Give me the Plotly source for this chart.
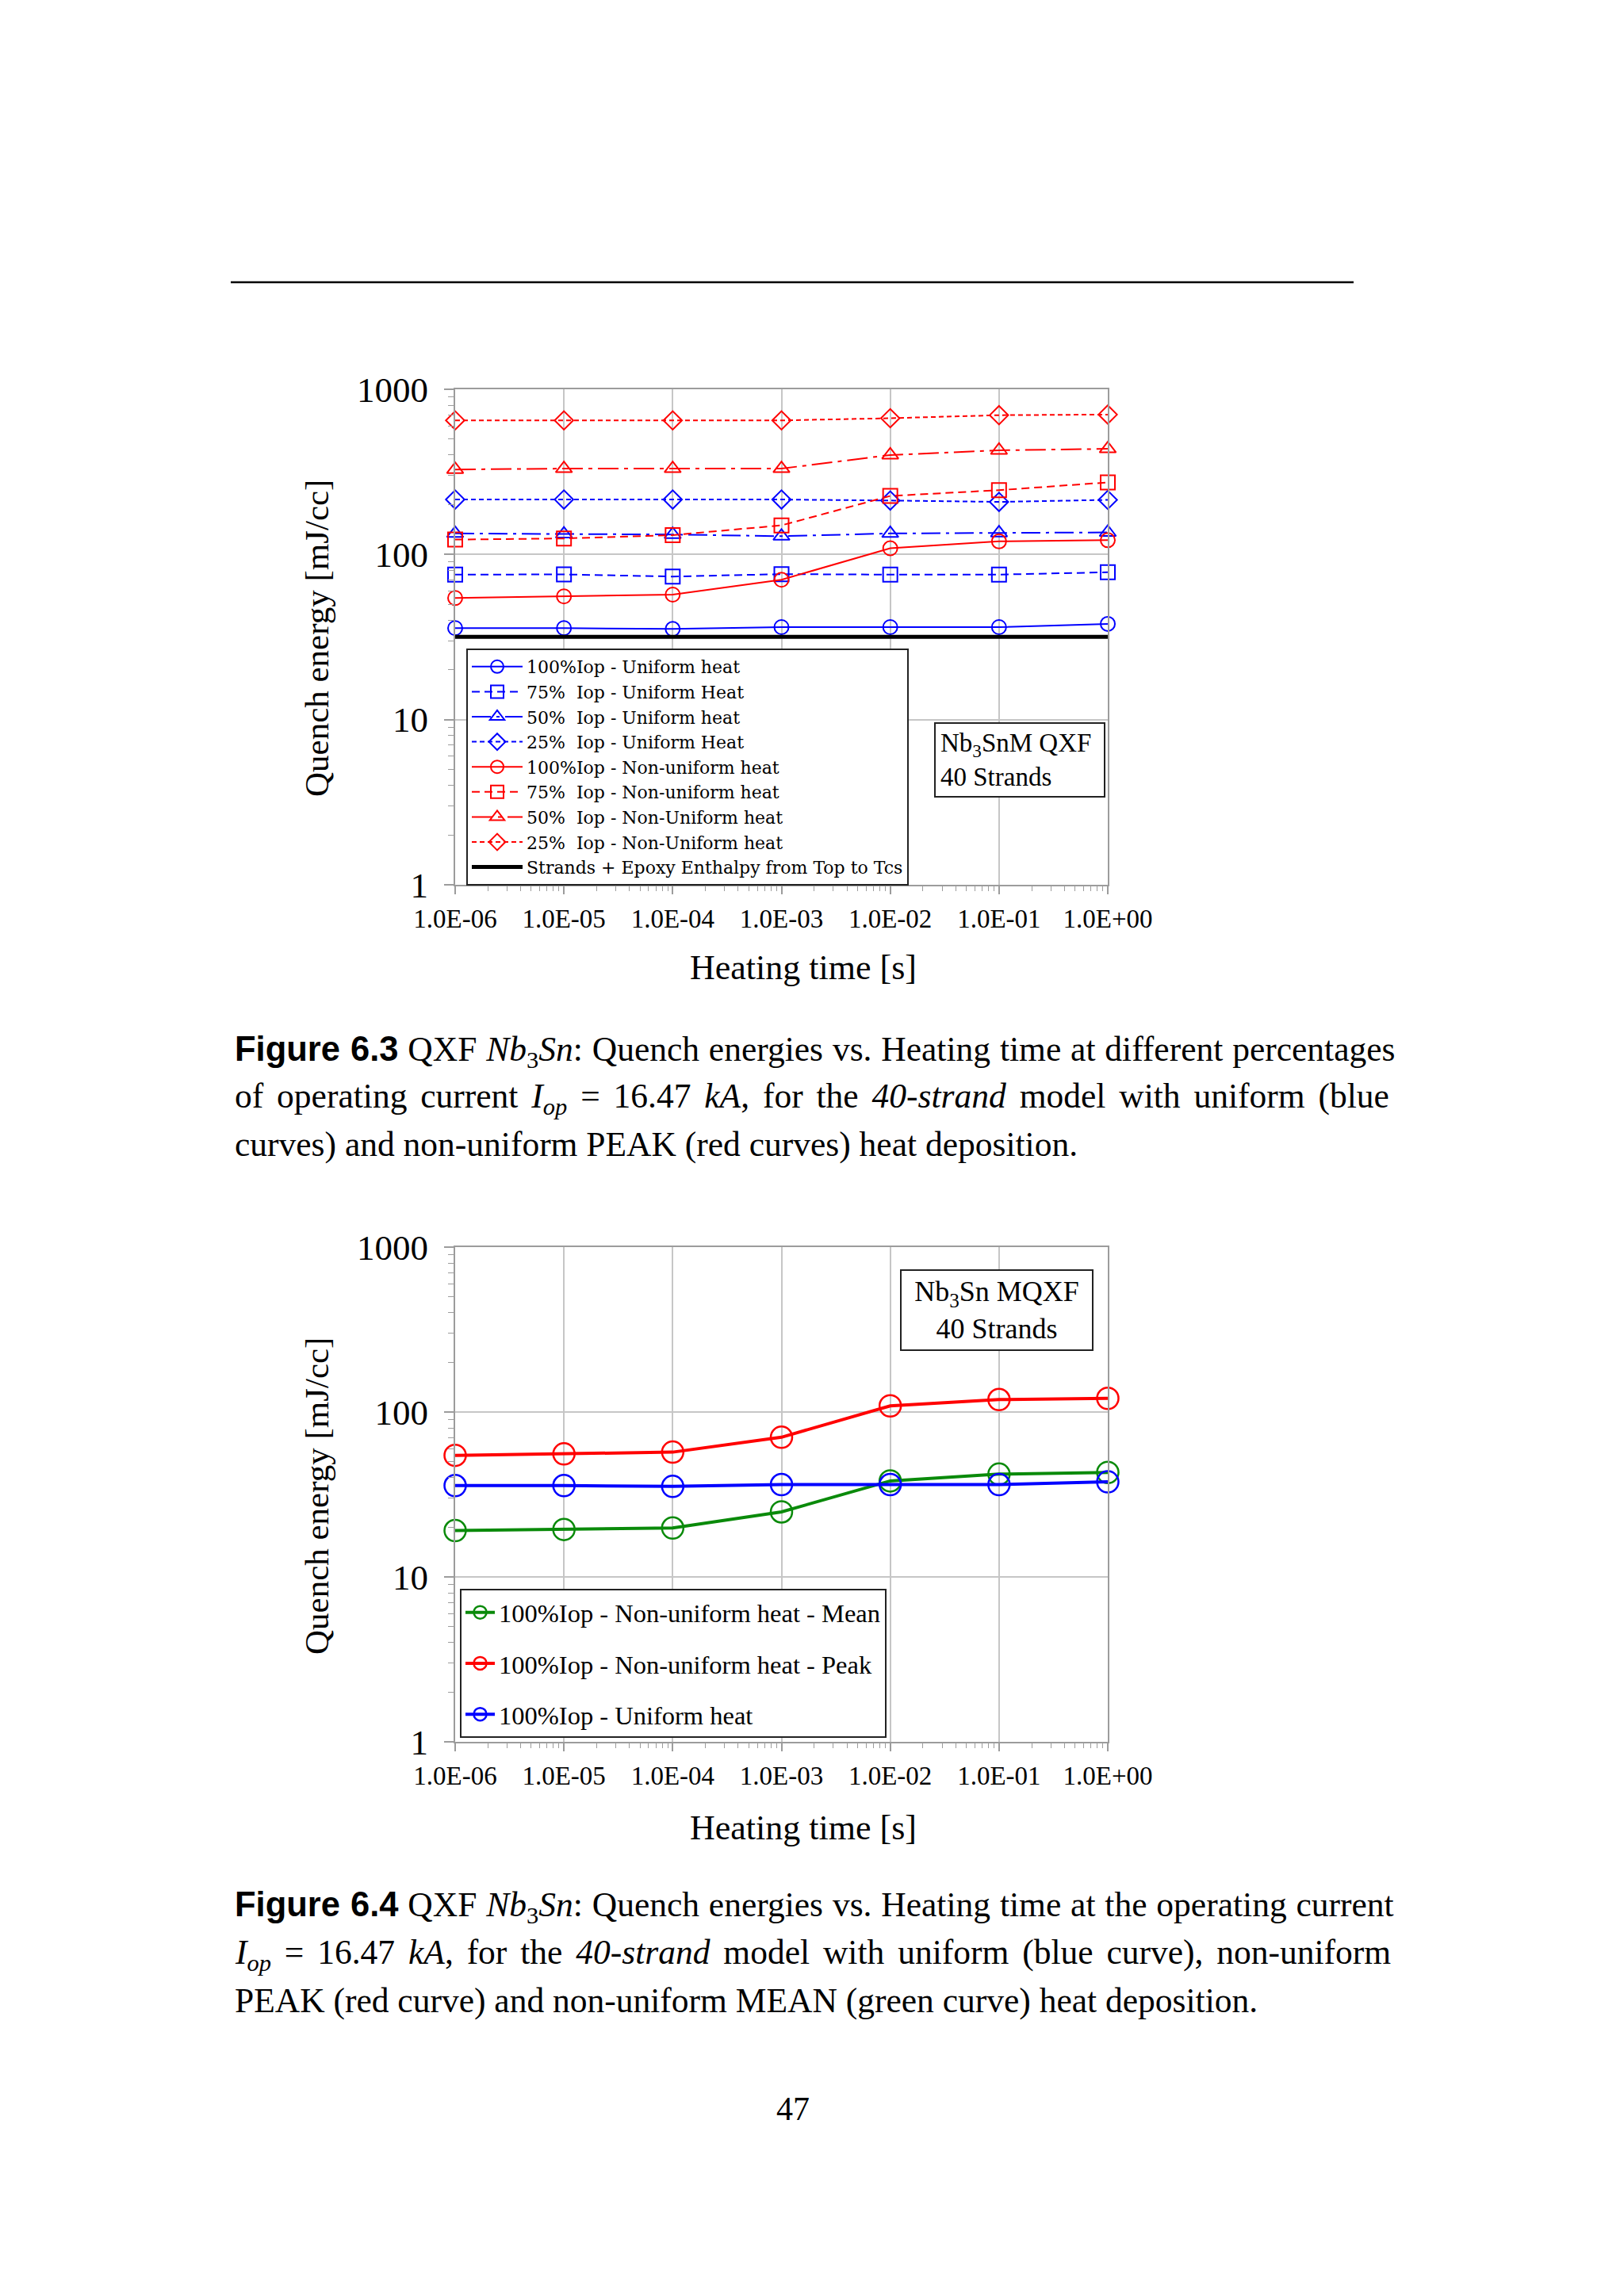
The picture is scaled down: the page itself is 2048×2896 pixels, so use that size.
import plotly.graph_objects as go

W, H = 2048, 2896
OFF = 8  # page body margin of the rendered html

# ---------------- data ----------------
heating_time = [1e-6, 1e-5, 1e-4, 1e-3, 1e-2, 1e-1, 1e0]
x_tick_text = ["1.0E-06", "1.0E-05", "1.0E-04", "1.0E-03", "1.0E-02", "1.0E-01", "1.0E+00"]
y_tick_vals = [1, 10, 100, 1000]
y_tick_text = ["1", "10", "100", "1000"]

# Figure 6.3 (40-strand model, QXF)
uni_100 = [35.8, 35.8, 35.4, 36.3, 36.3, 36.3, 38.0]
uni_75 = [75.5, 75.7, 73.5, 76.0, 75.5, 75.5, 78.0]
uni_50 = [134, 133, 132, 129, 134, 135, 136]
uni_25 = [215, 215, 215, 215, 212, 208, 214]
non_100 = [54.5, 55.7, 57.1, 70.3, 109, 120, 122]
non_75 = [123, 125, 131, 150, 226, 245, 273]
non_50 = [327, 331, 331, 331, 400, 427, 436]
non_25 = [648, 648, 648, 648, 668, 697, 703]
enthalpy = [31.7, 31.7, 31.7, 31.7, 31.7, 31.7, 31.7]

# Figure 6.4 (100% Iop)
mean_100 = [19.1, 19.4, 19.8, 24.8, 38.2, 42.0, 43.0]
peak_100 = [54.6, 55.7, 57.1, 70.3, 109, 119, 121]
unif_100 = [35.8, 35.8, 35.4, 36.3, 36.3, 36.3, 37.7]

BLUE = "#0000ff"
RED = "#ff0000"
GREEN = "#0a8a0a"
SERIF = "Liberation Serif"
NB = "\u00a0"


def px(x):
    return (x - OFF) / W


def py(y):
    return 1 - (y - OFF) / H


fig = go.Figure()

series1 = [
    ("100%Iop - Uniform heat", uni_100, BLUE, "solid", "circle-open"),
    ("75%" + NB + NB + "Iop - Uniform Heat", uni_75, BLUE, "10px,6px", "square-open"),
    ("50%" + NB + NB + "Iop - Uniform heat", uni_50, BLUE, "24px,7px,4px,7px", "triangle-up-open"),
    ("25%" + NB + NB + "Iop - Uniform Heat", uni_25, BLUE, "6px,4px", "diamond-open"),
    ("100%Iop - Non-uniform heat", non_100, RED, "solid", "circle-open"),
    ("75%" + NB + NB + "Iop - Non-uniform heat", non_75, RED, "10px,6px", "square-open"),
    ("50%" + NB + NB + "Iop - Non-Uniform heat", non_50, RED, "26px,7px,5px,7px", "triangle-up-open"),
    ("25%" + NB + NB + "Iop - Non-Uniform heat", non_25, RED, "6px,4px", "diamond-open"),
]
for name, vals, col, dash, sym in series1:
    fig.add_trace(go.Scatter(
        x=heating_time, y=vals, name=name, mode="lines+markers",
        line=dict(color=col, width=2, dash=dash),
        marker=dict(symbol=sym, size=18, color=col, line=dict(width=2, color=col)),
        cliponaxis=False, xaxis="x", yaxis="y", legend="legend"))
fig.add_trace(go.Scatter(
    x=heating_time, y=enthalpy, name="Strands + Epoxy Enthalpy from Top to Tcs",
    mode="lines", line=dict(color="black", width=5), cliponaxis=False,
    xaxis="x", yaxis="y", legend="legend"))

series2 = [
    ("100%Iop - Non-uniform heat - Mean", mean_100, GREEN),
    ("100%Iop - Non-uniform heat - Peak", peak_100, RED),
    ("100%Iop - Uniform heat", unif_100, BLUE),
]
for i, (name, vals, col) in enumerate(series2):
    fig.add_trace(go.Scatter(
        x=heating_time, y=vals, name=name, mode="lines+markers",
        line=dict(color=col, width=4),
        marker=dict(symbol="circle-open", size=27, color=col, line=dict(width=2.5, color=col)),
        cliponaxis=False, xaxis="x2", yaxis="y2", legend="legend2", legendgroup="g%d" % i))

# ---------------- axes ----------------
X0, X1 = 574, 1397
P1_TOP, P1_BOT = 491, 1116
P2_TOP, P2_BOT = 1573, 2197


def xaxis_cfg(anchor):
    return dict(type="log", range=[-6, 0], domain=[px(X0), px(X1)], anchor=anchor,
                automargin=False,
                tickmode="array", tickvals=heating_time, ticktext=x_tick_text,
                showline=True, linecolor="#9c9c9c", linewidth=2, mirror=True,
                showgrid=True, gridcolor="#c6c6c6", gridwidth=1.5, zeroline=False,
                ticks="outside", ticklen=10, tickwidth=1.5, tickcolor="#9c9c9c",
                ticklabelstandoff=2,
                minor=dict(ticks="outside", ticklen=6, tickwidth=1.2, tickcolor="#9c9c9c",
                           dtick="D1", showgrid=False),
                tickfont=dict(family=SERIF, size=33, color="black"))


def yaxis_cfg(anchor, top, bot):
    return dict(type="log", range=[0, 3], domain=[py(bot), py(top)], anchor=anchor,
                automargin=False,
                tickmode="array", tickvals=y_tick_vals, ticktext=y_tick_text,
                showline=True, linecolor="#9c9c9c", linewidth=2, mirror=True,
                showgrid=True, gridcolor="#c6c6c6", gridwidth=1.5, zeroline=False,
                ticks="outside", ticklen=12, tickwidth=1.5, tickcolor="#9c9c9c",
                ticklabelstandoff=11,
                minor=dict(ticks="outside", ticklen=7, tickwidth=1.2, tickcolor="#9c9c9c",
                           dtick="D1", showgrid=False),
                tickfont=dict(family=SERIF, size=45, color="black"))


fig.update_layout(
    width=W, height=H, margin=dict(l=0, r=0, t=0, b=0, pad=0, autoexpand=False),
    paper_bgcolor="white", plot_bgcolor="white",
    xaxis=xaxis_cfg("y"), yaxis=yaxis_cfg("x", P1_TOP, P1_BOT),
    xaxis2=xaxis_cfg("y2"), yaxis2=yaxis_cfg("x2", P2_TOP, P2_BOT),
    legend=dict(x=px(588), y=py(818), xanchor="left", yanchor="top",
                bgcolor="white", bordercolor="#222222", borderwidth=2,
                font=dict(family="DejaVu Serif", size=22, color="black"),
                itemwidth=64, traceorder="normal"),
    legend2=dict(x=px(580), y=py(2004), xanchor="left", yanchor="top",
                 bgcolor="white", bordercolor="#222222", borderwidth=2,
                 font=dict(family=SERIF, size=32.5, color="black"),
                 itemwidth=37, traceorder="grouped", tracegroupgap=19),
    showlegend=True,
)

ann = []
# boxed labels
ann.append(dict(xref="paper", yref="paper", x=px(1285.5), y=py(958.5),
                xanchor="center", yanchor="middle", align="left",
                text="Nb<sub>3</sub>SnM QXF<br>40 Strands", showarrow=False,
                font=dict(family=SERIF, size=33, color="black"),
                bordercolor="#222222", borderwidth=2, borderpad=6, bgcolor="white",
                width=200))
ann.append(dict(xref="paper", yref="paper", x=px(1256.5), y=py(1652),
                xanchor="center", yanchor="middle", align="center",
                text="Nb<sub>3</sub>Sn MQXF<br>40 Strands", showarrow=False,
                font=dict(family=SERIF, size=36, color="black"),
                bordercolor="#222222", borderwidth=2, borderpad=6, bgcolor="white",
                width=228))
# axis titles
for yc in (805, 1887):
    ann.append(dict(xref="paper", yref="paper", x=px(399), y=py(yc),
                    xanchor="center", yanchor="middle", textangle=-90,
                    text="Quench energy [mJ/cc]", showarrow=False,
                    font=dict(family=SERIF, size=43, color="black")))
for yc in (1221, 2305):
    ann.append(dict(xref="paper", yref="paper", x=px(1013), y=py(yc),
                    xanchor="center", yanchor="middle",
                    text="Heating time [s]", showarrow=False,
                    font=dict(family=SERIF, size=44, color="black")))

# captions
FIG = "<span style='font-family:Liberation Sans'><b>%s</b></span>"
NBSN = "<i>Nb</i><sub>3</sub><i>Sn</i>"
IOP = "<i>I</i><sub><i>op</i></sub>"
cap1 = [
    (FIG % "Figure 6.3" + " QXF " + NBSN + ": Quench energies vs. Heating time at different percentages", 1),
    ("of operating current " + IOP + " = 16.47 <i>kA</i>, for the <i>40-strand</i> model with uniform (blue", 6),
    ("curves) and non-uniform PEAK (red curves) heat deposition.", 0),
]
cap2 = [
    (FIG % "Figure 6.4" + " QXF " + NBSN + ": Quench energies vs. Heating time at the operating current", 1),
    (IOP + " = 16.47 <i>kA</i>, for the <i>40-strand</i> model with uniform (blue curve), non-uniform", 6),
    ("PEAK (red curve) and non-uniform MEAN (green curve) heat deposition.", 0),
]
for lines, ys in ((cap1, (1326, 1385, 1443)), (cap2, (2405, 2465, 2523))):
    for (t, ws), yc in zip(lines, ys):
        if ws:
            t = "<span style='word-spacing:%dpx'>%s</span>" % (ws, t)
        ann.append(dict(xref="paper", yref="paper", x=px(294), y=py(yc),
                        xanchor="left", yanchor="middle", text=t, showarrow=False,
                        font=dict(family=SERIF, size=43.5, color="black")))
ann.append(dict(xref="paper", yref="paper", x=px(1000), y=py(2660),
                xanchor="center", yanchor="middle", text="47", showarrow=False,
                font=dict(family=SERIF, size=42, color="black")))
fig.update_layout(annotations=ann)

fig.add_shape(type="line", xref="paper", yref="paper", x0=px(291), x1=px(1707),
              y0=py(356), y1=py(356), line=dict(color="black", width=2.5))

fig.write_html("out.html")
